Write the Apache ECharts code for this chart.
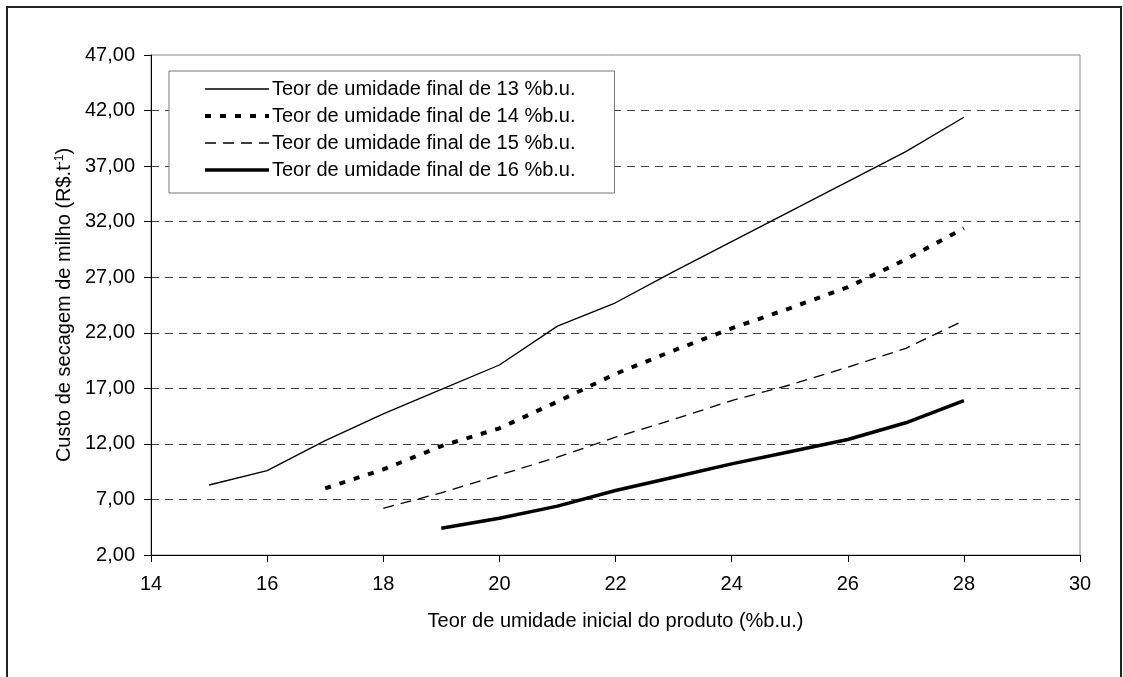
<!DOCTYPE html>
<html>
<head>
<meta charset="utf-8">
<script src="https://cdn.jsdelivr.net/npm/echarts@6/dist/echarts.min.js"></script>
<style>
    html, body { margin: 0; padding: 0; background: #fff; }
    #chart { width: 1123px; height: 677px; }
</style>
</head>
<body>
<div id="chart"></div>
<script>
const seriesNames = [
    'Teor de umidade final de 13 %b.u.',
    'Teor de umidade final de 14 %b.u.',
    'Teor de umidade final de 15 %b.u.',
    'Teor de umidade final de 16 %b.u.'
];

const x13 = [15, 16, 17, 18, 19, 20, 21, 22, 23, 24, 25, 26, 27, 28];
const y13 = [8.3, 9.6, 12.3, 14.7, 16.9, 19.1, 22.6, 24.7, 27.5, 30.2, 32.9, 35.6, 38.3, 41.4];

const x14 = [17, 18, 19, 20, 21, 22, 23, 24, 25, 26, 27, 28];
const y14 = [8.0, 9.7, 11.8, 13.4, 15.8, 18.3, 20.4, 22.4, 24.2, 26.1, 28.6, 31.4];

const x15 = [18, 19, 20, 21, 22, 23, 24, 25, 26, 27, 28];
const y15 = [6.2, 7.6, 9.2, 10.8, 12.6, 14.2, 15.9, 17.3, 18.9, 20.6, 23.1];

const x16 = [19, 20, 21, 22, 23, 24, 25, 26, 27, 28];
const y16 = [4.4, 5.3, 6.4, 7.8, 9.0, 10.2, 11.3, 12.4, 13.9, 15.9];

const FONT = "'Liberation Sans', Arial, sans-serif";

function pairs(xs, ys) {
    return xs.map((x, i) => [x, ys[i]]);
}

const chart = echarts.init(document.getElementById('chart'));

const option = {
    animation: false,
    backgroundColor: '#fff',
    textStyle: { fontFamily: FONT, color: '#000' },
    graphic: [
        {
            // moldura externa | outer frame
            type: 'rect',
            shape: { x: 7, y: 7, width: 1114, height: 700 },
            style: { fill: null, stroke: '#222', lineWidth: 2 },
            silent: true
        }
    ],
    grid: {
        left: 151,
        right: 43,
        top: 55,
        bottom: 122,
        show: true,
        borderColor: '#888',
        borderWidth: 1
    },
    legend: {
        left: 169,
        top: 71,
        orient: 'vertical',
        backgroundColor: '#fff',
        borderColor: '#777',
        borderWidth: 1,
        borderRadius: 0,
        padding: [5, 39, 10, 34],
        itemGap: 1,
        itemWidth: 64,
        itemHeight: 14,
        itemStyle: { color: 'transparent', borderWidth: 0, opacity: 0 },
        lineStyle: { width: 'inherit', type: 'inherit', color: '#000' },
        textStyle: { fontFamily: FONT, fontSize: 20, color: '#000', lineHeight: 26, padding: [0, 0, 0, -2] },
        data: seriesNames
    },
    xAxis: {
        type: 'value',
        min: 14,
        max: 30,
        interval: 2,
        name: 'Teor de umidade inicial do produto (%b.u.)',
        nameLocation: 'middle',
        nameGap: 56,
        nameTextStyle: { fontFamily: FONT, fontSize: 20, color: '#000' },
        axisLine: { show: true, lineStyle: { color: '#000', width: 1 } },
        axisTick: { show: true, length: 7, lineStyle: { color: '#000' } },
        axisLabel: { fontFamily: FONT, fontSize: 20, color: '#000', margin: 19 },
        splitLine: { show: false }
    },
    yAxis: {
        type: 'value',
        min: 2,
        max: 47,
        interval: 5,
        name: 'Custo de secagem de milho (R$.t{sup|-1})',
        nameLocation: 'middle',
        nameGap: 74,
        nameTextStyle: {
            fontFamily: FONT,
            fontSize: 20,
            color: '#000',
            rich: {
                sup: { fontFamily: FONT, fontSize: 12, color: '#000', verticalAlign: 'top', padding: [0, 0, 8, 0] }
            }
        },
        axisLine: { show: true, lineStyle: { color: '#000', width: 1 } },
        axisTick: { show: true, length: 7, lineStyle: { color: '#000' } },
        axisLabel: {
            fontFamily: FONT,
            fontSize: 20,
            color: '#000',
            margin: 16,
            formatter: v => v.toFixed(2).replace('.', ',')
        },
        splitLine: {
            show: true,
            showMaxLine: false,
            lineStyle: { color: '#444', width: 1, type: [8, 6] }
        }
    },
    series: [
        {
            name: seriesNames[0],
            type: 'line',
            symbol: 'none',
            data: pairs(x13, y13),
            lineStyle: { color: '#000', width: 1.3, type: 'solid' },
            itemStyle: { color: '#000' }
        },
        {
            name: seriesNames[1],
            type: 'line',
            symbol: 'none',
            data: pairs(x14, y14),
            lineStyle: { color: '#000', width: 4, type: [6, 9] },
            itemStyle: { color: '#000' }
        },
        {
            name: seriesNames[2],
            type: 'line',
            symbol: 'none',
            data: pairs(x15, y15),
            lineStyle: { color: '#000', width: 1.3, type: [11, 7] },
            itemStyle: { color: '#000' }
        },
        {
            name: seriesNames[3],
            type: 'line',
            symbol: 'none',
            data: pairs(x16, y16),
            lineStyle: { color: '#000', width: 3.5, type: 'solid' },
            itemStyle: { color: '#000' }
        }
    ]
};

chart.setOption(option);
</script>
</body>
</html>
